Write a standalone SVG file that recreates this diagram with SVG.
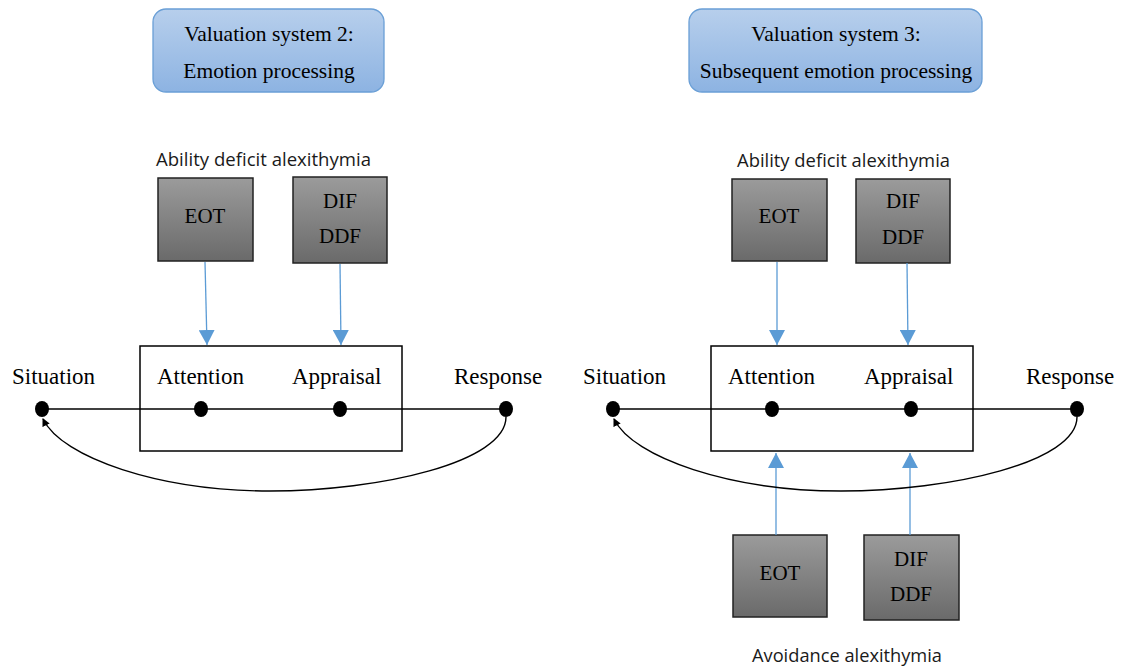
<svg xmlns="http://www.w3.org/2000/svg" width="1122" height="668" viewBox="0 0 1122 668">
<style>
.serif{font-family:"Liberation Serif","Times New Roman",serif;fill:#000}
.title{font-size:21.5px;text-anchor:middle}
.lbl{font-size:23px}
.bx{font-size:21px;text-anchor:middle}
.cal{font-family:"Open Sans","Noto Sans",sans-serif;font-size:18px;fill:#1a1a1a}
.tbox{fill:url(#gBlue);stroke:#6a9fd6;stroke-width:1.3}
.gbox{fill:url(#gGray);stroke:#222;stroke-width:1.5}
.pbox{fill:none;stroke:#000;stroke-width:1.5}
.blue{stroke:#5b9bd5;stroke-width:1.3;fill:none;marker-end:url(#bArrow)}
.axis{stroke:#000;stroke-width:1.6;fill:none}
.loop{stroke:#000;stroke-width:1.4;fill:none;marker-end:url(#kArrow)}
.dot{fill:#000}
</style>
<defs>
<linearGradient id="gBlue" x1="0" y1="0" x2="0" y2="1">
<stop offset="0" stop-color="#b7cfec"/>
<stop offset="1" stop-color="#8db3e2"/>
</linearGradient>
<linearGradient id="gGray" x1="0" y1="0" x2="0" y2="1">
<stop offset="0" stop-color="#9b9b9b"/>
<stop offset="1" stop-color="#6a6a6a"/>
</linearGradient>
<marker id="bArrow" markerUnits="userSpaceOnUse" markerWidth="16" markerHeight="16" viewBox="0 0 16 16" refX="15" refY="8" orient="auto">
<path d="M0,0 L15,8 L0,16 Z" fill="#5b9bd5"/>
</marker>
<marker id="kArrow" markerUnits="userSpaceOnUse" markerWidth="8" markerHeight="8" viewBox="0 0 8 8" refX="7" refY="4" orient="auto">
<path d="M0,0 L8,4 L0,8 Z" fill="#000"/>
</marker>
</defs>

<!-- Left panel -->
<g id="title-left">
<rect class="tbox" x="153" y="9" width="231" height="83" rx="13"/>
<text class="serif title" x="269" y="41">Valuation system 2:</text>
<text class="serif title" x="269" y="78">Emotion processing</text>
</g>
<g id="label-ability-left">
<text class="cal" x="156" y="166" textLength="215" lengthAdjust="spacingAndGlyphs">Ability deficit alexithymia</text>
</g>
<g id="eot-left">
<rect class="gbox" x="158" y="178" width="95" height="83"/>
<text class="serif bx" x="205" y="223">EOT</text>
</g>
<g id="dif-left">
<rect class="gbox" x="293" y="177" width="94" height="86"/>
<text class="serif bx" x="340" y="208">DIF</text>
<text class="serif bx" x="340" y="243">DDF</text>
</g>
<g id="process-left">
<rect class="pbox" x="140" y="346" width="262" height="105"/>
</g>
<g id="situation-left">
<text class="serif lbl" x="12" y="384">Situation</text>
<ellipse class="dot" cx="42" cy="409" rx="7" ry="8"/>
</g>
<g id="attention-left">
<text class="serif lbl" x="157" y="384">Attention</text>
<ellipse class="dot" cx="201" cy="409" rx="7" ry="8"/>
</g>
<g id="appraisal-left">
<text class="serif lbl" x="292" y="384">Appraisal</text>
<ellipse class="dot" cx="340" cy="409" rx="7" ry="8"/>
</g>
<g id="response-left">
<text class="serif lbl" x="454" y="384">Response</text>
<ellipse class="dot" cx="506" cy="409" rx="7" ry="8"/>
</g>

<!-- Right panel -->
<g id="title-right">
<rect class="tbox" x="689" y="9" width="293" height="83" rx="13"/>
<text class="serif title" x="836" y="41">Valuation system 3:</text>
<text class="serif title" x="836" y="78">Subsequent emotion processing</text>
</g>
<g id="label-ability-right">
<text class="cal" x="737" y="167" textLength="213" lengthAdjust="spacingAndGlyphs">Ability deficit alexithymia</text>
</g>
<g id="eot-right-top">
<rect class="gbox" x="732" y="179" width="95" height="82"/>
<text class="serif bx" x="779" y="223">EOT</text>
</g>
<g id="dif-right-top">
<rect class="gbox" x="856" y="179" width="94" height="84"/>
<text class="serif bx" x="903" y="208">DIF</text>
<text class="serif bx" x="903" y="244">DDF</text>
</g>
<g id="process-right">
<rect class="pbox" x="711" y="346" width="262" height="105"/>
</g>
<g id="situation-right">
<text class="serif lbl" x="583" y="384">Situation</text>
<ellipse class="dot" cx="613" cy="409" rx="7" ry="8"/>
</g>
<g id="attention-right">
<text class="serif lbl" x="728" y="384">Attention</text>
<ellipse class="dot" cx="772" cy="409" rx="7" ry="8"/>
</g>
<g id="appraisal-right">
<text class="serif lbl" x="864" y="384">Appraisal</text>
<ellipse class="dot" cx="911" cy="409" rx="7" ry="8"/>
</g>
<g id="response-right">
<text class="serif lbl" x="1026" y="384">Response</text>
<ellipse class="dot" cx="1077" cy="409" rx="7" ry="8"/>
</g>
<g id="eot-right-bottom">
<rect class="gbox" x="733" y="535" width="94" height="82"/>
<text class="serif bx" x="780" y="580">EOT</text>
</g>
<g id="dif-right-bottom">
<rect class="gbox" x="864" y="535" width="95" height="85"/>
<text class="serif bx" x="911" y="566">DIF</text>
<text class="serif bx" x="911" y="601">DDF</text>
</g>
<g id="label-avoidance">
<text class="cal" x="752" y="662" textLength="190" lengthAdjust="spacingAndGlyphs">Avoidance alexithymia</text>
</g>

<!-- Connectors -->
<g id="connectors">
<line class="axis" x1="42" y1="409" x2="506" y2="409"/>
<line class="axis" x1="613" y1="409" x2="1077" y2="409"/>
<path class="blue" d="M205,262 L207,345"/>
<path class="blue" d="M340,264 L341,345"/>
<path class="blue" d="M777,262 L777,345"/>
<path class="blue" d="M907,263 L908,345"/>
<path class="blue" d="M776,535 L776,453"/>
<path class="blue" d="M910,535 L910,453"/>
<path class="loop" d="M506,417 C506,462 380,491 270,491 C160,491 62,458 43,419"/>
<path class="loop" d="M1077,417 C1077,462 951,491 841,491 C731,491 633,458 614,419"/>
</g>
</svg>
